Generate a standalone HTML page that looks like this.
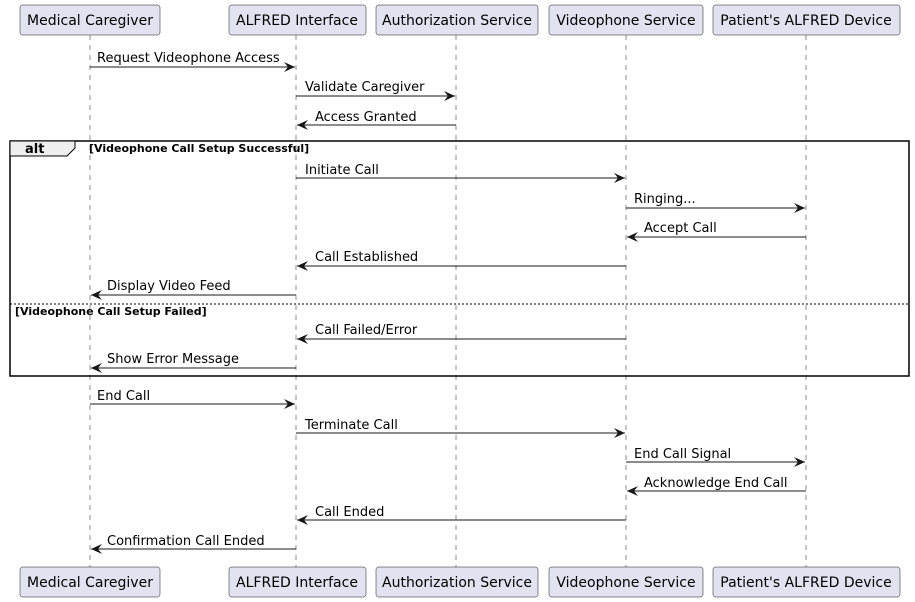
<!DOCTYPE html>
<html><head><meta charset="utf-8"><style>html,body{margin:0;padding:0;background:#fff}svg{display:block}</style></head><body>
<svg width="915" height="602" viewBox="0 0 915 602" xmlns="http://www.w3.org/2000/svg" font-family="'DejaVu Sans','Liberation Sans',sans-serif">
<defs>
<marker id="ah" markerWidth="12" markerHeight="10" refX="11" refY="5" orient="auto" markerUnits="userSpaceOnUse">
<path d="M0,0 L11,5 L0,10 L4,5 Z" fill="#181818"/>
</marker>
</defs>
<g stroke="#181818" stroke-width="0.5" stroke-dasharray="5,5">
<line x1="90" y1="35" x2="90" y2="567"/>
<line x1="296" y1="35" x2="296" y2="567"/>
<line x1="456" y1="35" x2="456" y2="567"/>
<line x1="626" y1="35" x2="626" y2="567"/>
<line x1="806" y1="35" x2="806" y2="567"/>
</g>
<g fill="#E2E2F0" stroke="#181818" stroke-width="0.5">
<rect x="20" y="5" width="140" height="30" rx="2.5"/>
<rect x="229" y="5" width="137" height="30" rx="2.5"/>
<rect x="376" y="5" width="162" height="30" rx="2.5"/>
<rect x="549" y="5" width="154" height="30" rx="2.5"/>
<rect x="713" y="5" width="187" height="30" rx="2.5"/>
<rect x="20" y="567" width="140" height="30" rx="2.5"/>
<rect x="229" y="567" width="137" height="30" rx="2.5"/>
<rect x="376" y="567" width="162" height="30" rx="2.5"/>
<rect x="549" y="567" width="154" height="30" rx="2.5"/>
<rect x="713" y="567" width="187" height="30" rx="2.5"/>
</g>
<g font-size="14" fill="#000" text-anchor="middle">
<text x="90" y="25">Medical Caregiver</text>
<text x="297" y="25">ALFRED Interface</text>
<text x="457" y="25">Authorization Service</text>
<text x="626" y="25">Videophone Service</text>
<text x="806" y="25">Patient's ALFRED Device</text>
<text x="90" y="587">Medical Caregiver</text>
<text x="297" y="587">ALFRED Interface</text>
<text x="457" y="587">Authorization Service</text>
<text x="626" y="587">Videophone Service</text>
<text x="806" y="587">Patient's ALFRED Device</text>
</g>
<!-- alt frame -->
<rect x="10" y="141" width="899" height="235" fill="none" stroke="#000" stroke-width="1.5"/>
<path d="M10,141 L75,141 L75,148 L67,156 L10,156 Z" fill="#EEEEEE" stroke="#000" stroke-width="1"/>
<text x="25" y="153" font-size="13" font-weight="bold">alt</text>
<text x="89" y="152" font-size="11" font-weight="bold">[Videophone Call Setup Successful]</text>
<line x1="10" y1="304" x2="909" y2="304" stroke="#000" stroke-width="1" stroke-dasharray="2,2"/>
<text x="15" y="315" font-size="11" font-weight="bold">[Videophone Call Setup Failed]</text>
<g stroke="#181818" stroke-width="1" marker-end="url(#ah)">
<line x1="90" y1="67" x2="295" y2="67"/>
<line x1="296" y1="96" x2="455" y2="96"/>
<line x1="456" y1="125" x2="297" y2="125"/>
<line x1="296" y1="178" x2="625" y2="178"/>
<line x1="626" y1="208" x2="805" y2="208"/>
<line x1="806" y1="237" x2="627" y2="237"/>
<line x1="626" y1="266" x2="297" y2="266"/>
<line x1="296" y1="295" x2="91" y2="295"/>
<line x1="626" y1="339" x2="297" y2="339"/>
<line x1="296" y1="368" x2="91" y2="368"/>
<line x1="90" y1="404" x2="295" y2="404"/>
<line x1="296" y1="433" x2="625" y2="433"/>
<line x1="626" y1="462" x2="805" y2="462"/>
<line x1="806" y1="491" x2="627" y2="491"/>
<line x1="626" y1="520" x2="297" y2="520"/>
<line x1="296" y1="549" x2="91" y2="549"/>
</g>
<g font-size="13" fill="#000">
<text x="97" y="62">Request Videophone Access</text>
<text x="305" y="91">Validate Caregiver</text>
<text x="315" y="121">Access Granted</text>
<text x="305" y="174">Initiate Call</text>
<text x="634" y="203">Ringing...</text>
<text x="644" y="232">Accept Call</text>
<text x="315" y="261">Call Established</text>
<text x="107" y="290">Display Video Feed</text>
<text x="315" y="334">Call Failed/Error</text>
<text x="107" y="363">Show Error Message</text>
<text x="97" y="400">End Call</text>
<text x="305" y="429">Terminate Call</text>
<text x="634" y="458">End Call Signal</text>
<text x="644" y="487">Acknowledge End Call</text>
<text x="315" y="516">Call Ended</text>
<text x="107" y="545">Confirmation Call Ended</text>
</g>
</svg>
</body></html>
